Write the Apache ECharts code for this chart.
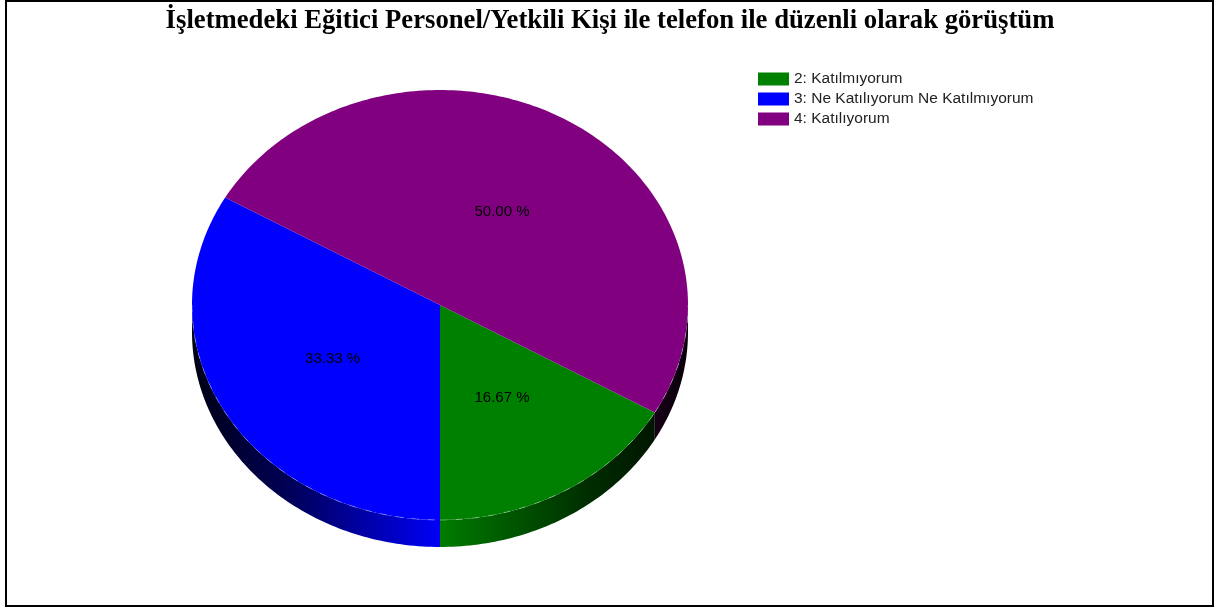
<!DOCTYPE html>
<html>
<head>
<meta charset="utf-8">
<script src="https://cdn.jsdelivr.net/npm/echarts@6/dist/echarts.min.js"></script>
<style>
  html, body { margin: 0; padding: 0; background: #fff; }
  #chart { width: 1215px; height: 608px; }
</style>
</head>
<body>
<div id="chart"></div>
<script>
// Survey answers and their shares (percent)
const titleText = 'İşletmedeki Eğitici Personel/Yetkili Kişi ile telefon ile düzenli olarak görüştüm';
const categories = ['2: Katılmıyorum', '3: Ne Katılıyorum Ne Katılmıyorum', '4: Katılıyorum'];
const values = [16.67, 33.33, 50.00];
// order in which the answers follow each other around the pie
const sliceOrder = [0, 2, 1];

// Slice colours
const colors = ['#008000', '#0000ff', '#800080'];

// Tilted pie geometry
const PIE = { cx: 440, cy: 305, rx: 248, ry: 215, depth: 27 };

const total = values.reduce((a, b) => a + b, 0);
const starts = [];
sliceOrder.reduce((acc, idx) => { starts[idx] = acc; return acc + values[idx]; }, 0);

// angle measured from the bottom of the ellipse, going counter-clockwise on screen
function pt(deg, dy) {
  const r = deg * Math.PI / 180;
  return [PIE.cx + PIE.rx * Math.sin(r), PIE.cy + PIE.ry * Math.cos(r) + (dy || 0)];
}
function arc(a0, a1, dy) {
  const pts = [];
  const n = Math.max(2, Math.ceil(Math.abs(a1 - a0)));
  for (let k = 0; k <= n; k++) pts.push(pt(a0 + (a1 - a0) * k / n, dy));
  return pts;
}
function shade(hex, f) {
  const n = parseInt(hex.slice(1), 16);
  const r = Math.round(((n >> 16) & 255) * f), g = Math.round(((n >> 8) & 255) * f), b = Math.round((n & 255) * f);
  return 'rgb(' + r + ',' + g + ',' + b + ')';
}

function makeRender(i) {
  return function (params, api) {
    const v = api.value(0);
    const a0 = 360 * starts[i] / total;
    const a1 = a0 + 360 * v / total;
    const children = [];
    const grad = new echarts.graphic.LinearGradient(PIE.cx - PIE.rx, 0, PIE.cx + PIE.rx, 0, [
      { offset: 0, color: shade(colors[i], 0.08) },
      { offset: 0.2, color: shade(colors[i], 0.35) },
      { offset: 0.5, color: shade(colors[i], 0.97) },
      { offset: 0.8, color: shade(colors[i], 0.35) },
      { offset: 1, color: shade(colors[i], 0.08) }
    ], true);
    // visible side walls: front half of the ellipse
    [[0, 90], [270, 360]].forEach(function (rng) {
      const s = Math.max(a0, rng[0]), e = Math.min(a1, rng[1]);
      if (e > s) {
        const top = arc(s, e, 0);
        const bot = arc(e, s, PIE.depth);
        children.push({ type: 'polygon', shape: { points: top.concat(bot) }, style: { fill: grad }, z2: 1 });
        children.push({ type: 'polyline', shape: { points: top },
          style: { stroke: 'rgba(255,255,255,0.35)', lineWidth: 1, lineDash: [7, 9], fill: null }, z2: 3 });
      }
    });
    // top face
    const face = [[PIE.cx, PIE.cy]].concat(arc(a0, a1, 0));
    children.push({ type: 'polygon', shape: { points: face }, style: { fill: colors[i] }, z2: 2 });
    // percentage label at half radius
    const mid = (a0 + a1) / 2 * Math.PI / 180;
    children.push({
      type: 'text', z2: 4,
      style: {
        x: PIE.cx + 0.5 * PIE.rx * Math.sin(mid),
        y: PIE.cy + 0.5 * PIE.ry * Math.cos(mid),
        text: v.toFixed(2) + ' %',
        fill: '#000', font: '15px "Liberation Sans", Arial, sans-serif',
        align: 'center', verticalAlign: 'middle'
      }
    });
    return { type: 'group', children: children };
  };
}

const series = categories.map(function (name, i) {
  return {
    type: 'custom', name: name, coordinateSystem: 'none',
    itemStyle: { color: colors[i] },
    data: [[values[i]]],
    renderItem: makeRender(i),
    silent: true, animation: false
  };
});

const chart = echarts.init(document.getElementById('chart'), null, { renderer: 'canvas' });
chart.setOption({
  backgroundColor: '#fff',
  animation: false,
  title: {
    text: titleText, left: 605, top: 3, textAlign: 'center',
    textStyle: { fontFamily: '"Liberation Serif", "Times New Roman", serif', fontWeight: 'bold', fontSize: 26.7, color: '#000' }
  },
  legend: {
    orient: 'vertical', left: 753, top: 66, icon: 'rect',
    itemWidth: 31, itemHeight: 13, itemGap: 4,
    textStyle: { fontFamily: '"Liberation Sans", Arial, sans-serif', fontSize: 15.5, color: '#222' },
    data: categories, selectedMode: false
  },
  graphic: [{
    type: 'rect', shape: { x: 6, y: 1, width: 1207, height: 605 },
    style: { fill: null, stroke: '#000', lineWidth: 2 }, z: 10
  }],
  series: series
});
</script>
</body>
</html>
